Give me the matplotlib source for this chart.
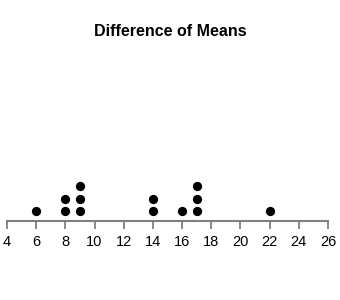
import numpy as np
import matplotlib
matplotlib.use("Agg")
from matplotlib import pyplot as plt

plt.rcParams['font.family'] = ['Liberation Sans', 'DejaVu Sans']

# dot plot values and their counts
values = [6, 8, 9, 14, 16, 17, 22]
counts = [1, 2, 3, 2, 1, 3, 1]
ticks = np.arange(4, 27, 2)

fig = plt.figure(figsize=(3.4, 3.0), dpi=100)
ax = fig.add_axes([7/340, 79/300, 321/340, 161/300])

xs, ys = [], []
for v, c in zip(values, counts):
    for k in range(c):
        xs.append(v)
        ys.append(10 + 12.5*k)
ax.scatter(xs, ys, s=32, color='black', zorder=3, clip_on=False)

ax.set_xlim(4, 26)
ax.set_ylim(0, 161)
for side in ['top', 'right', 'left']:
    ax.spines[side].set_visible(False)
ax.spines['bottom'].set_color('#808080')
ax.spines['bottom'].set_linewidth(1.5)
ax.set_yticks([])
ax.set_xticks(ticks)
ax.tick_params(axis='x', direction='out', length=6, width=1.3, color='#808080',
               labelsize=10.5, pad=4)

fig.text(0.5, 1 - 32/300, 'Difference of Means', ha='center', va='center',
         fontsize=11.5, fontweight='bold')

fig.savefig('out.png', dpi=100)
